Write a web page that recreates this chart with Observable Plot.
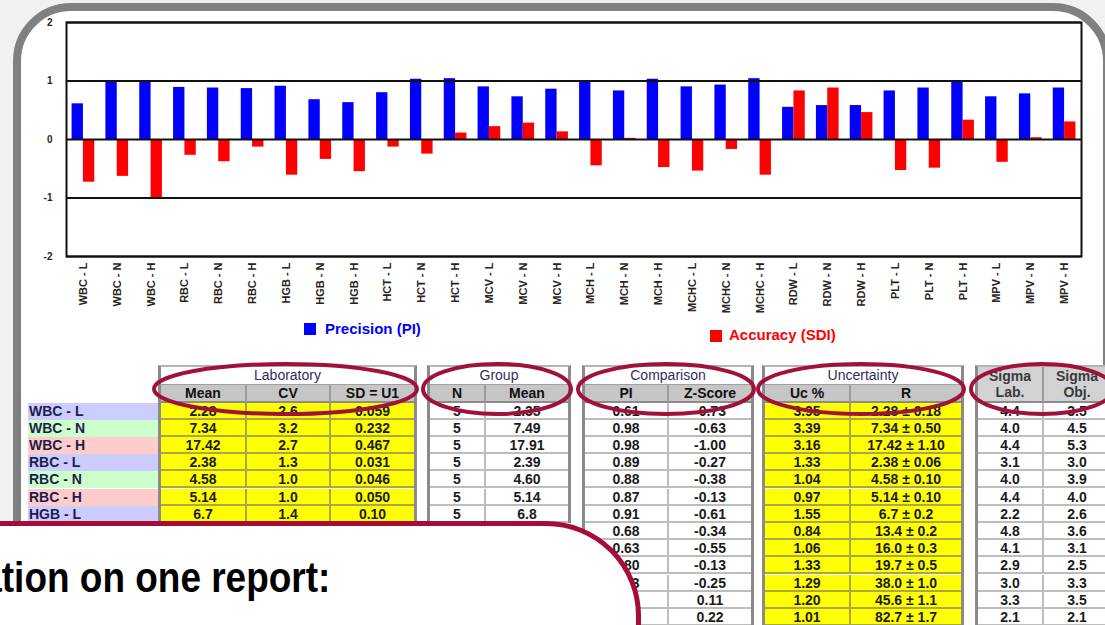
<!DOCTYPE html>
<html><head><meta charset="utf-8">
<script src="https://cdn.jsdelivr.net/npm/d3@7"></script>
<script src="https://cdn.jsdelivr.net/npm/@observablehq/plot@0.6"></script>
<style>
html,body{margin:0;padding:0;width:1105px;height:625px;overflow:hidden;background:#f1f1f1;font-family:"Liberation Sans",Arial,sans-serif;}
#frame{position:absolute;left:13px;top:3px;width:1098px;height:640px;box-sizing:border-box;border:8px solid #808080;border-radius:58px 58px 46px 58px;background:#fff;z-index:1;}
#chart{position:absolute;left:0;top:0;z-index:2;}
.leg{position:absolute;z-index:2;font-weight:bold;font-size:15px;line-height:18px;white-space:nowrap;}
.sw{position:absolute;width:12px;height:12px;z-index:2;}
.blk{position:absolute;z-index:3;box-sizing:content-box;border-left:3px solid #8a8a8a;border-right:3px solid #8a8a8a;border-top:2px solid #b4b4b4;background:#fff;}
.c{position:absolute;box-sizing:border-box;text-align:center;font-weight:bold;font-size:14px;color:#1b1b1b;white-space:nowrap;overflow:hidden;}
.title{color:#2e2e5c;font-weight:normal;font-size:14px;border-bottom:1px solid #a0a0a0;}
.head{background:#c6c6c6;border-right:2px solid #9c9c9c;border-bottom:2px solid #8c8c8c;color:#111;}
.sig{background:#d2d2d2;color:#3a3a3a;line-height:16px;padding-top:1px;font-size:14px;}
.lbl{position:absolute;z-index:3;box-sizing:border-box;font-weight:bold;font-size:14px;color:#1e1e4a;padding-left:1px;white-space:nowrap;}
#ell{position:absolute;left:0;top:0;z-index:4;pointer-events:none;}
#callout{position:absolute;left:-60px;top:521px;width:701px;height:200px;box-sizing:border-box;border:5px solid #a50d36;border-top-right-radius:95px;background:#fff;z-index:5;}
#ctext{position:absolute;right:775px;top:557px;font-size:42px;line-height:42px;font-weight:bold;color:#000;white-space:nowrap;z-index:6;transform:scaleX(0.88);transform-origin:right center;}
</style>
</head><body>
<div id="frame"></div>
<div id="chart"></div>
<div id="tables"></div>
<svg id="ell" width="1105" height="625"></svg>
<div id="callout"></div>
<div id="ctext">Information on one report:</div>
<script>
// ---------- chart data ----------
const categories = ["WBC - L","WBC - N","WBC - H","RBC - L","RBC - N","RBC - H","HGB - L","HGB - N","HGB - H",
  "HCT - L","HCT - N","HCT - H","MCV - L","MCV - N","MCV - H","MCH - L","MCH - N","MCH - H",
  "MCHC - L","MCHC - N","MCHC - H","RDW - L","RDW - N","RDW - H","PLT - L","PLT - N","PLT - H","MPV - L","MPV - N","MPV - H"];
const precision = [0.61,0.98,0.98,0.89,0.88,0.87,0.91,0.68,0.63,0.80,1.03,1.04,0.90,0.73,0.86,0.99,0.83,1.03,0.90,0.93,1.04,0.55,0.58,0.58,0.83,0.88,0.99,0.73,0.78,0.88];
const accuracy = [-0.73,-0.63,-1.00,-0.27,-0.38,-0.13,-0.61,-0.34,-0.55,-0.13,-0.25,0.11,0.22,0.28,0.13,-0.45,0.02,-0.48,-0.54,-0.17,-0.61,0.83,0.88,0.46,-0.53,-0.49,0.33,-0.39,0.03,0.30];
const yTicks = [-2,-1,0,1,2];
const seriesNames = ["Precision (PI)","Accuracy (SDI)"];
const seriesColors = ["#0000ff","#ff0000"];

// ---------- table data ----------
const rowLabels = ["WBC - L","WBC - N","WBC - H","RBC - L","RBC - N","RBC - H","HGB - L"];
const labMean = ["2.28","7.34","17.42","2.38","4.58","5.14","6.7"];
const labCV = ["2.6","3.2","2.7","1.3","1.0","1.0","1.4"];
const labSD = ["0.059","0.232","0.467","0.031","0.046","0.050","0.10"];
const groupN = ["5","5","5","5","5","5","5"];
const groupMean = ["2.35","7.49","17.91","2.39","4.60","5.14","6.8"];
const compPI = ["0.61","0.98","0.98","0.89","0.88","0.87","0.91","0.68","0.63","0.80","1.03","1.04","0.90"];
const compZ = ["-0.73","-0.63","-1.00","-0.27","-0.38","-0.13","-0.61","-0.34","-0.55","-0.13","-0.25","0.11","0.22"];
const uncUc = ["3.95","3.39","3.16","1.33","1.04","0.97","1.55","0.84","1.06","1.33","1.29","1.20","1.01"];
const uncR = ["2.28 ± 0.18","7.34 ± 0.50","17.42 ± 1.10","2.38 ± 0.06","4.58 ± 0.10","5.14 ± 0.10","6.7 ± 0.2","13.4 ± 0.2","16.0 ± 0.3","19.7 ± 0.5","38.0 ± 1.0","45.6 ± 1.1","82.7 ± 1.7"];
const sigmaLab = ["4.4","4.0","4.4","3.1","4.0","4.4","2.2","4.8","4.1","2.9","3.0","3.3","2.1"];
const sigmaObj = ["3.5","4.5","5.3","3.0","3.9","4.0","2.6","3.6","3.1","2.5","3.3","3.5","2.1"];

// ---------- chart ----------
const rows = categories.map((c, i) => ({cat: c, pi: precision[i], sdi: accuracy[i]}));
const W = 1105, ML = 66, MR = 24;
const bw = (W - ML - MR) / categories.length;
const chart = Plot.plot({
  width: W, height: 318,
  marginLeft: ML, marginRight: MR, marginTop: 22, marginBottom: 62,
  x: {domain: categories, padding: 0, round: false, label: null},
  y: {domain: [-2, 2], label: null},
  style: {fontFamily: "'Liberation Sans', Arial, sans-serif", fontWeight: "bold", background: "transparent", color: "#2a241c"},
  marks: [
    Plot.barY(rows, {x: "cat", y: "pi", fill: seriesColors[0], insetLeft: bw * 0.165, insetRight: bw * 0.5}),
    Plot.barY(rows, {x: "cat", y: "sdi", fill: seriesColors[1], insetLeft: bw * 0.5, insetRight: bw * 0.165}),
    Plot.ruleY(yTicks, {stroke: "#111", strokeWidth: 2}),
    Plot.frame({stroke: "#111", strokeWidth: 2}),
    Plot.axisY({ticks: yTicks, tickSize: 0, tickPadding: 14, tickFormat: d => String(d), fontSize: 10, label: null}),
    Plot.axisX({tickRotate: -90, tickSize: 0, tickPadding: 6, fontSize: 11, label: null})
  ]
});
document.getElementById("chart").appendChild(chart);

// legend
function legendItem(i, sx, sy, tx, ty) {
  const s = document.createElement("div"); s.className = "sw";
  s.style.left = sx + "px"; s.style.top = sy + "px"; s.style.background = seriesColors[i];
  const t = document.createElement("div"); t.className = "leg";
  t.style.left = tx + "px"; t.style.top = ty + "px"; t.style.color = seriesColors[i];
  t.textContent = seriesNames[i];
  document.body.appendChild(s); document.body.appendChild(t);
}
legendItem(0, 304, 323, 325, 320);
legendItem(1, 710, 330, 729, 326);

// ---------- tables ----------
const T0 = 365, HH1 = 18, HH2 = 17.5, RH = 17.2;
const DT = T0 + 2 + HH1 + HH2;
const tables = document.getElementById("tables");
const ellSvg = document.getElementById("ell");
function cell(parent, cls, x, y, w, h, html, extra) {
  const d = document.createElement("div");
  d.className = "c " + cls;
  d.style.left = x + "px"; d.style.top = y + "px"; d.style.width = w + "px"; d.style.height = h + "px";
  d.style.lineHeight = (h - 1) + "px";
  if (extra) Object.assign(d.style, extra);
  d.innerHTML = html;
  parent.appendChild(d);
  return d;
}
function block(left, colW, title, heads, cols, fill, line) {
  const el = document.createElement("div");
  el.className = "blk";
  const inner = colW.reduce((a, b) => a + b, 0);
  const n = cols[0].length;
  el.style.left = left + "px"; el.style.top = T0 + "px";
  el.style.width = inner + "px"; el.style.height = (HH1 + HH2 + n * RH) + "px";
  let x = 0;
  if (title) cell(el, "title", 0, 0, inner, HH1, title);
  heads.forEach((h, j) => {
    const last = j === heads.length - 1;
    if (title) cell(el, "head", x, HH1, colW[j], HH2, h, last ? {borderRight: "none"} : null);
    else {
      const d = cell(el, "head sig", x, 0, colW[j], HH1 + HH2, h, last ? {borderRight: "none"} : null);
      d.style.lineHeight = "16px";
    }
    x += colW[j];
  });
  x = 0;
  cols.forEach((col, j) => {
    const last = j === cols.length - 1;
    col.forEach((v, i) => {
      cell(el, "", x, HH1 + HH2 + i * RH, colW[j], RH, v, {
        background: fill, borderBottom: "2px solid " + line,
        borderRight: last ? "none" : "2px solid " + line
      });
    });
    x += colW[j];
  });
  tables.appendChild(el);
  // circled header annotation
  const outer = inner + 6;
  const e = document.createElementNS("http://www.w3.org/2000/svg", "ellipse");
  e.setAttribute("cx", left + outer / 2 - 2);
  e.setAttribute("cy", 389);
  e.setAttribute("rx", outer / 2 + 2);
  e.setAttribute("ry", 25);
  e.setAttribute("fill", "none");
  e.setAttribute("stroke", "#a0123a");
  e.setAttribute("stroke-width", 4);
  ellSvg.appendChild(e);
}
// row labels
const labelBg = {L: "#ccccff", N: "#ccffcc", H: "#ffcccc"};
rowLabels.forEach((r, i) => {
  const d = document.createElement("div");
  d.className = "lbl";
  d.textContent = r;
  Object.assign(d.style, {left: "28px", top: (DT + i * RH) + "px", width: "130px", height: RH + "px",
    lineHeight: (RH - 1) + "px", background: labelBg[r.slice(-1)]});
  tables.appendChild(d);
});
const YEL = "#ffff00", YLINE = "#a8a84a", WHT = "#ffffff", WLINE = "#bdbdbd";
block(158, [86, 84, 83], "Laboratory", ["Mean", "CV", "SD = U1"], [labMean, labCV, labSD], YEL, YLINE);
block(427, [56, 82], "Group", ["N", "Mean"], [groupN, groupMean], WHT, WLINE);
block(582, [84, 82], "Comparison", ["PI", "Z-Score"], [compPI, compZ], WHT, WLINE);
block(762, [86, 110], "Uncertainty", ["Uc %", "R"], [uncUc, uncR], YEL, YLINE);
block(975, [66, 66], null, ["Sigma<br>Lab.", "Sigma<br>Obj."], [sigmaLab, sigmaObj], WHT, WLINE);
</script>
</body></html>
